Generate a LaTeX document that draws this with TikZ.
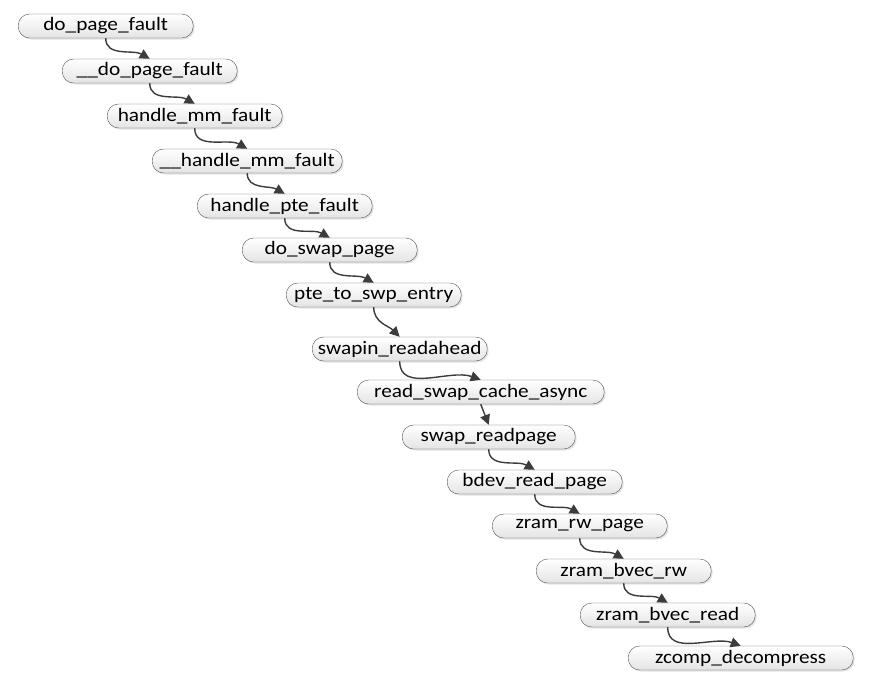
\documentclass[tikz,border=0pt]{standalone}
\usepackage{fontspec}
\setmainfont{Carlito}[FakeStretch=1.12]
\usepackage{tikz}
\usetikzlibrary{arrows.meta,shadows}
\usepackage{xcolor}
\definecolor{fnline}{RGB}{85,85,85}
\definecolor{fnfill}{RGB}{228,228,228}
\definecolor{calldark}{RGB}{60,60,60}

\tikzset{
  fn/.style={draw=fnline, rounded corners=11.5pt, top color=white, bottom color=fnfill,
    minimum height=24pt, minimum width=175pt, inner sep=0pt, anchor=west,
    drop shadow={shadow xshift=1.5pt, shadow yshift=-1.5pt, opacity=0.22}},
  calls/.style={->, draw=calldark, line width=1.4pt}
}

\begin{document}
\begin{tikzpicture}[x=1pt, y=-1pt, font=\fontsize{19}{21}\selectfont,
  >={Triangle[length=10pt,width=10pt]}]
\useasboundingbox (0,0) rectangle (877,686);
\node[fn] (dpf)   at (18,26)  {do\_page\_fault};
\node[fn] (udpf)  at (62,71)  {\_\_do\_page\_fault};
\node[fn] (hmf)   at (107,116) {handle\_mm\_fault};
\node[fn, minimum width=190pt] (uhmf) at (152,161) {\_\_handle\_mm\_fault};
\node[fn] (hpf)   at (197,206) {handle\_pte\_fault};
\node[fn] (dsp)   at (242,250) {do\_swap\_page};
\node[fn] (pte)   at (286,295) {pte\_to\_swp\_entry};
\node[fn] (sra)   at (312,349) {swapin\_readahead};
\node[fn, minimum width=247pt] (rsca) at (357,392) {read\_swap\_cache\_async};
\node[fn, minimum width=173pt] (srp)  at (402,437) {swap\_readpage};
\node[fn] (brp)   at (447,482) {bdev\_read\_page};
\node[fn] (zrw)   at (492,526) {zram\_rw\_page};
\node[fn] (zbrw)  at (536,571) {zram\_bvec\_rw};
\node[fn] (zbr)   at (580,615) {zram\_bvec\_read};
\node[fn, minimum width=225pt] (zcd)  at (628,658) {zcomp\_decompress};
% call chain
\draw[calls] (dpf.south)  to[out=-90, in=150] (udpf.north);
\draw[calls] (udpf.south) to[out=-90, in=150] (hmf.north);
\draw[calls] (hmf.south)  to[out=-90, in=150] (uhmf.north);
\draw[calls] (uhmf.south) to[out=-90, in=150] (hpf.north);
\draw[calls] (hpf.south)  to[out=-90, in=150] (dsp.north);
\draw[calls] (dsp.south)  to[out=-90, in=150] (pte.north);
\draw[calls] (pte.south)  to[out=-90, in=135] (sra.north);
\draw[calls] (sra.south)  to[out=-90, in=160] (rsca.north);
\draw[calls] (rsca.south) -- (srp.north);
\draw[calls] (srp.south)  to[out=-90, in=150] (brp.north);
\draw[calls] (brp.south)  to[out=-90, in=150] (zrw.north);
\draw[calls] (zrw.south)  to[out=-90, in=150] (zbrw.north);
\draw[calls] (zbrw.south) to[out=-90, in=150] (zbr.north);
\draw[calls] (zbr.south)  to[out=-90, in=160] (zcd.north);
\end{tikzpicture}
\end{document}
